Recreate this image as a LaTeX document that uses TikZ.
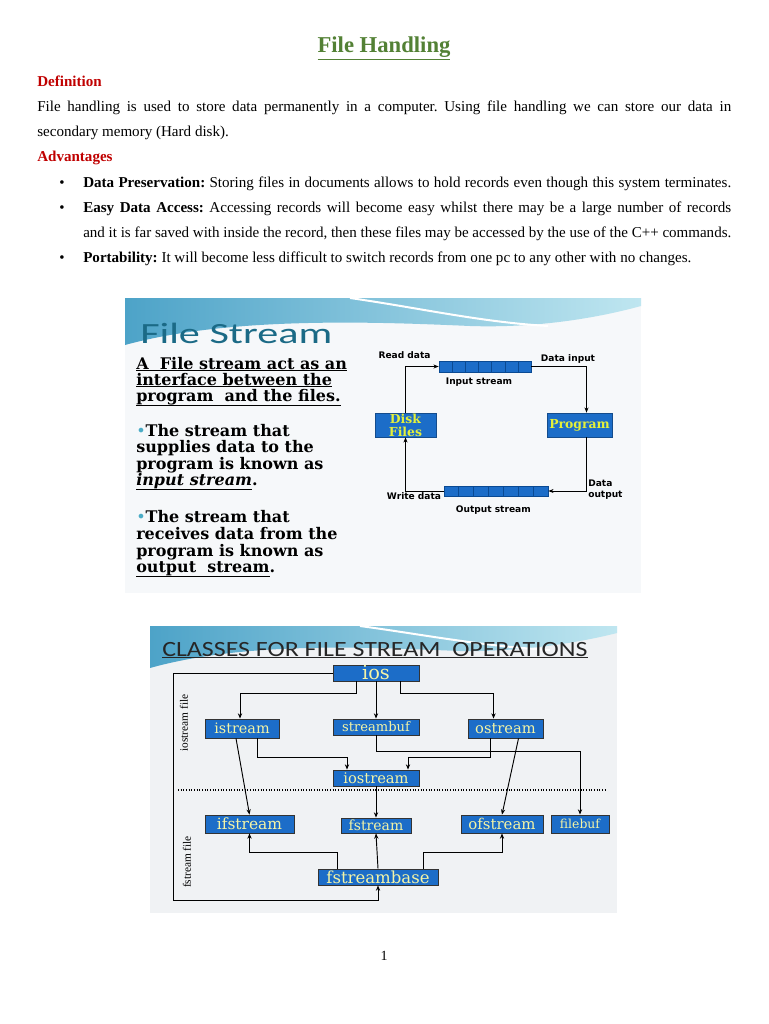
\documentclass[tikz,border=0pt]{standalone}
\usepackage{fontspec}
\usepackage{graphicx}
\setmainfont{Liberation Serif}
\newfontfamily\slideserif{DejaVu Serif}
\newfontfamily\slidesans{DejaVu Sans}
\newfontfamily\slidehead{Carlito}
\usetikzlibrary{arrows.meta,positioning,calc}
\frenchspacing

\definecolor{headgreen}{HTML}{538135}
\definecolor{headred}{HTML}{C00000}
\definecolor{boxblue}{HTML}{1C6DC8}
\definecolor{cellline}{HTML}{0A4A93}
\definecolor{diskyellow}{HTML}{E4F03A}
\definecolor{clsyellow}{HTML}{F4F4A6}
\definecolor{slideteal}{HTML}{1B6A86}
\definecolor{dotcyan}{HTML}{4BACC6}
\definecolor{slidebg}{HTML}{F6F8FA}
\definecolor{slidebgtwo}{HTML}{F0F2F4}
\definecolor{swoopdark}{HTML}{4DA3C8}
\definecolor{swooplight}{HTML}{BFE6F0}

\newsavebox\linebox
\newsavebox\ulbox
% stretch a line to full width, or squeeze it when too long
\newcommand{\fitline}[2]{\sbox\linebox{#2}\ifdim\wd\linebox>#1\relax\resizebox{#1}{\height}{\usebox\linebox}\else\makebox[#1][s]{#2}\fi}
\newcommand{\thickul}[2][0.9pt]{\sbox\ulbox{#2}\rlap{\rule[\dimexpr-\dp\ulbox-1.4pt\relax]{\wd\ulbox}{#1}}\usebox\ulbox}

\tikzset{
    heading/.style={
        anchor=base west,
        inner sep=0pt,
        text=headred,
        font=\fontsize{11.3}{13}\selectfont\bfseries
    },
    bodyline/.style={
        anchor=base west,
        inner sep=0pt,
        font=\fontsize{11.3}{13}\selectfont
    },
    dotmark/.style={anchor=base, inner sep=0pt, font=\fontsize{11.3}{13}\selectfont},
    slideline/.style={
        anchor=base west,
        inner sep=0pt,
        font=\slideserif\bfseries\fontsize{12}{12.2}\selectfont
    },
    streambar/.style={draw=cellline, fill=boxblue, inner sep=0pt},
    filebox/.style={
        fill=boxblue,
        draw=boxblue!70!black,
        inner sep=0pt,
        minimum height=18pt,
        align=center,
        text=diskyellow,
        font=\slideserif\bfseries\fontsize{9.3}{9.8}\selectfont
    },
    flowlabel/.style={inner sep=0pt, font=\slidesans\bfseries\fontsize{6.8}{7.8}\selectfont},
    flow/.style={-{Stealth[length=4pt,width=3pt]}, line width=0.75pt},
    cls/.style={
        fill=boxblue,
        draw=black!80,
        line width=0.6pt,
        inner sep=0pt,
        text=clsyellow,
        font=\slideserif\fontsize{#1}{#1}\selectfont
    },
    link/.style={-{Stealth[length=4pt,width=3.2pt]}, line width=0.7pt},
    sidelabel/.style={rotate=90, inner sep=0pt, font=\fontsize{8.5}{9}\selectfont}
}

\begin{document}
\begin{tikzpicture}[x=0.75pt, y=-0.75pt]
    \useasboundingbox (0,0) rectangle (768,1024);
    \fill[white] (0,0) rectangle (768,1024);

    % page text
    \node[anchor=base, inner sep=0pt, text=headgreen, font=\fontsize{17}{20}\selectfont\bfseries] (title) at (384,53) {\thickul[0.8pt]{File Handling}};
    \node[heading] (defhead) at (37,86) {Definition};
    \node[bodyline] (def1) at (37,111) {\fitline{520.5pt}{File handling is used to store data permanently in a computer. Using file handling we can store our data in}};
    \node[bodyline] (def2) at (37,136) {secondary memory (Hard disk).};
    \node[heading] (advhead) at (37,161) {Advantages};

    \foreach \y in {187,212,262}
        \node[dotmark] at (62,\y) {\textbullet};
    \node[bodyline] (adv1) at (83,187) {\fitline{486pt}{\textbf{Data Preservation:} Storing files in documents allows to hold records even though this system terminates.}};
    \node[bodyline] (adv2) at (83,212) {\fitline{486pt}{\textbf{Easy Data Access:} Accessing records will become easy whilst there may be a large number of records}};
    \node[bodyline] (adv2b) at (83,237) {\fitline{486pt}{and it is far saved with inside the record, then these files may be accessed by the use of the C++ commands.}};
    \node[bodyline] (adv3) at (83,262) {\textbf{Portability:} It will become less difficult to switch records from one pc to any other with no changes.};

    % slide 1: file stream
    \fill[slidebg] (125,298) rectangle (641,593);
    \shade[left color=swoopdark, right color=swooplight] (125,298) -- (641,298) -- (641,306)
        .. controls (590,320) and (530,328) .. (470,326)
        .. controls (380,322) and (230,316) .. (125,345) -- cycle;
    \draw[white, line width=1.5pt] (350,298) .. controls (420,308) and (480,322) .. (548,326);
    \node[anchor=base west, inner sep=0pt, text=slideteal, font=\slidehead\fontsize{22}{24}\selectfont] (fstitle) at (140,343) {\resizebox{144pt}{\height}{File Stream}};

    \node[slideline] (a1) at (136,369) {\thickul[0.7pt]{A\ \ File stream act as an}};
    \node[slideline] (a2) at (136,385) {\thickul[0.7pt]{interface between the}};
    \node[slideline] (a3) at (136,401) {\thickul[0.7pt]{program\ \ and the files.}};
    \node[slideline] (b1) at (136,436) {{\color{dotcyan}\mdseries\textbullet}The stream that};
    \node[slideline] (b2) at (136,452.5) {supplies data to the};
    \node[slideline] (b3) at (136,469) {program is known as};
    \node[slideline] (b4) at (136,485) {\thickul[0.7pt]{\itshape input stream}.};
    \node[slideline] (c1) at (136,522) {{\color{dotcyan}\mdseries\textbullet}The stream that};
    \node[slideline] (c2) at (136,539) {receives data from the};
    \node[slideline] (c3) at (136,556) {program is known as};
    \node[slideline] (c4) at (136,572) {\thickul[0.7pt]{output\ \ stream}.};

    \node[streambar, minimum width=69pt, minimum height=8.25pt] (instream) at (485,366.5) {};
    \node[streambar, minimum width=78pt, minimum height=7.5pt] (outstream) at (496,491) {};
    \foreach \sname in {instream,outstream}
        \foreach \i in {1,...,6}
            \draw[cellline, line width=0.5pt] ($(\sname.south west)!\i/7!(\sname.south east)$) -- ($(\sname.north west)!\i/7!(\sname.north east)$);
    \node[filebox, minimum width=45.75pt] (disk) at (405.5,425) {Disk\\Files};
    \node[filebox, minimum width=48.75pt] (prog) at (579.5,425) {Program};

    \draw[flow] (disk.north) |- (instream.west);
    \draw[flow] (instream.east) -| ($(prog.north)+(7,0)$);
    \draw[flow] ($(prog.south)+(7,0)$) |- (outstream.east);
    \draw[flow] (outstream.west) -| (disk.south);

    \node[flowlabel] (readlbl) at (404.5,355) {Read data};
    \node[flowlabel] (inlbl) at (568,359) {Data input};
    \node[flowlabel, below=4pt of instream, xshift=-4.5pt] (instreamlbl) {Input stream};
    \node[flowlabel, anchor=west, align=left] (outlbl) at (588,489.5) {Data\\output};
    \node[flowlabel] (writelbl) at (414,496) {Write data};
    \node[flowlabel, below=7pt of outstream, xshift=-2pt] (outstreamlbl) {Output stream};

    % slide 2: classes
    \fill[slidebgtwo] (150,626) rectangle (617,913);
    \shade[left color=swoopdark, right color=swooplight] (150,626) -- (617,626) -- (617,633)
        .. controls (570,645) and (510,652) .. (460,651)
        .. controls (380,648) and (250,640) .. (150,668) -- cycle;
    \draw[white, line width=1.5pt] (360,626) .. controls (420,634) and (480,646) .. (550,650);
    \node[anchor=base west, inner sep=0pt, text=black!85, font=\slidehead\fontsize{16.3}{18}\selectfont] (clstitle) at (162,656) {\resizebox{319pt}{\height}{\thickul[0.6pt]{CLASSES FOR FILE STREAM\ \ OPERATIONS}}};

    \node[cls=14.5, minimum width=64.5pt, minimum height=12pt] (ios) at (376,673) {ios};
    \node[cls=10.8, minimum width=55.5pt, minimum height=14.25pt] (istream) at (242,728.5) {istream};
    \node[cls=9.8, minimum width=64.5pt, minimum height=12pt] (streambuf) at (376,727) {streambuf};
    \node[cls=11, minimum width=56.25pt, minimum height=14.25pt] (ostream) at (505.5,728.5) {ostream};
    \node[cls=11, minimum width=64.5pt, minimum height=12pt] (iostream) at (376,778) {iostream};
    \node[cls=11.6, minimum width=66.75pt, minimum height=13.5pt] (ifstream) at (249.5,824) {ifstream};
    \node[cls=10.5, minimum width=52.5pt, minimum height=11.25pt] (fstream) at (376,825.5) {fstream};
    \node[cls=11.2, minimum width=61.5pt, minimum height=13.5pt] (ofstream) at (502,824) {ofstream};
    \node[cls=9.3, minimum width=43.5pt, minimum height=13.5pt] (filebuf) at (580,824) {filebuf};
    \node[cls=12.4, minimum width=90pt, minimum height=12pt] (fstreambase) at (378,877) {fstreambase};

    \draw[link] ($(ios.south)+(-20,0)$) -- ++(0,12) -| ($(istream.north)+(-2,0)$);
    \draw[link] (ios.south) -- (streambuf.north);
    \draw[link] ($(ios.south)+(24,0)$) -- ++(0,12) -| ($(ostream.north)+(-12,0)$);
    \draw[link] (ios.west) -- ++(-159,0) -- ++(0,227) -| (fstreambase.south);
    \draw[link] ($(istream.south)+(15,0)$) -- ++(0,19) -| ($(iostream.north)+(-29,0)$);
    \draw[link] ($(ostream.south)+(-15,0)$) -- ++(0,19) -| ($(iostream.north)+(32,0)$);
    \draw[link] (streambuf.south) -- ++(0,16) -| (filebuf.north);
    \draw[link] ($(istream.south)+(-6,0)$) -- (ifstream.north);
    \draw[link] ($(ostream.south)+(13,0)$) -- (ofstream.north);
    \draw[link] (iostream.south) -- (fstream.north);
    \draw[link] ($(fstreambase.north)+(-41,0)$) -- ++(0,-16) -| (ifstream.south);
    \draw[link] (fstreambase.north) -- (fstream.south);
    \draw[link] ($(fstreambase.north)+(45,0)$) -- ++(0,-16) -| (ofstream.south);

    \draw[line width=0.8pt, dash pattern=on 0.8pt off 1.2pt] (178,790) -- (607,790);
    \node[sidelabel] (iofile) at (184,723) {iostream file};
    \node[sidelabel] (ffile) at (187,862) {fstream file};

    \node[anchor=base, inner sep=0pt, font=\fontsize{10.5}{12}\selectfont] (pagenum) at (384,960) {1};
\end{tikzpicture}
\end{document}
